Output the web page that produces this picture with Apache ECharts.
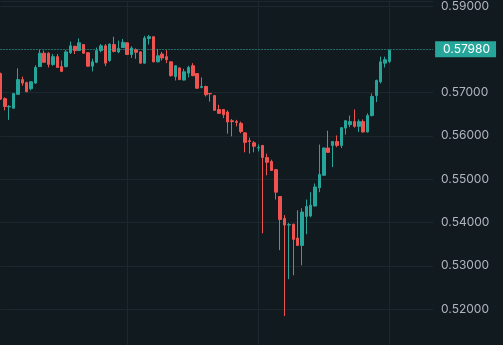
<!DOCTYPE html>
<html>
<head>
<meta charset="utf-8">
<script src="https://cdn.jsdelivr.net/npm/echarts@6/dist/echarts.min.js"></script>
<style>
html,body{margin:0;padding:0;background:#111a1f;}
#chart{width:503px;height:345px;}
</style>
</head>
<body>
<div id="chart"></div>
<script>
// ---- data ----
const opens  = [0.5744,0.5686,0.5667,0.5664,0.5696,0.5730,0.5723,0.5709,0.5722,0.5760,
                0.5791,0.5791,0.5765,0.5783,0.5760,0.5760,0.5792,0.5807,0.5797,0.5811,
                0.5792,0.5761,0.5770,0.5797,0.5808,0.5774,0.5811,0.5794,0.5804,0.5815,
                0.5788,0.5799,0.5794,0.5768,0.5825,0.5829,0.5771,0.5789,0.5783,0.5771,
                0.5737,0.5757,0.5729,0.5745,0.5762,0.5744,0.5712,0.5714,0.5698,0.5693,
                0.5661,0.5661,0.5655,0.5635,0.5633,0.5629,0.5607,0.5589,0.5584,0.5572,
                0.5578,0.5550,0.5541,0.5522,0.5460,0.5409,0.5394,0.5396,0.5364,0.5347,
                0.5414,0.5415,0.5438,0.5480,0.5509,0.5572,0.5578,0.5587,0.5578,0.5618,
                0.5626,0.5633,0.5622,0.5633,0.5609,0.5647,0.5693,0.5725,0.5768,0.5772];
const closes = [0.5685,0.5668,0.5668,0.5698,0.5730,0.5722,0.5702,0.5725,0.5758,0.5791,
                0.5770,0.5765,0.5783,0.5758,0.5749,0.5794,0.5808,0.5797,0.5815,0.5791,
                0.5761,0.5771,0.5797,0.5808,0.5768,0.5812,0.5795,0.5802,0.5816,0.5788,
                0.5803,0.5793,0.5768,0.5826,0.5829,0.5771,0.5785,0.5780,0.5776,0.5739,
                0.5762,0.5730,0.5748,0.5758,0.5739,0.5710,0.5714,0.5695,0.5697,0.5659,
                0.5652,0.5649,0.5632,0.5633,0.5631,0.5610,0.5585,0.5587,0.5576,0.5573,
                0.5550,0.5539,0.5520,0.5470,0.5407,0.5394,0.5395,0.5361,0.5347,0.5424,
                0.5437,0.5440,0.5482,0.5511,0.5572,0.5562,0.5587,0.5578,0.5619,0.5635,
                0.5633,0.5622,0.5633,0.5609,0.5647,0.5691,0.5728,0.5771,0.5776,0.5798];
const lows   = [0.5683,0.5659,0.5637,0.5663,0.5695,0.5716,0.5701,0.5705,0.5720,0.5759,
                0.5769,0.5758,0.5762,0.5757,0.5748,0.5758,0.5789,0.5789,0.5796,0.5790,
                0.5760,0.5749,0.5768,0.5793,0.5761,0.5771,0.5793,0.5791,0.5803,0.5787,
                0.5780,0.5778,0.5767,0.5767,0.5811,0.5770,0.5770,0.5774,0.5768,0.5737,
                0.5728,0.5729,0.5728,0.5735,0.5738,0.5709,0.5710,0.5691,0.5679,0.5658,
                0.5651,0.5641,0.5605,0.5599,0.5622,0.5606,0.5562,0.5559,0.5562,0.5564,
                0.5375,0.5509,0.5519,0.5453,0.5336,0.5184,0.5269,0.5278,0.5346,0.5301,
                0.5373,0.5412,0.5437,0.5470,0.5508,0.5561,0.5528,0.5574,0.5572,0.5603,
                0.5620,0.5619,0.5609,0.5608,0.5608,0.5645,0.5678,0.5721,0.5758,0.5768];
const highs  = [0.5746,0.5689,0.5671,0.5699,0.5756,0.5737,0.5725,0.5726,0.5763,0.5799,
                0.5797,0.5793,0.5789,0.5789,0.5774,0.5798,0.5818,0.5808,0.5825,0.5812,
                0.5793,0.5778,0.5804,0.5812,0.5812,0.5813,0.5829,0.5820,0.5824,0.5816,
                0.5807,0.5802,0.5795,0.5831,0.5833,0.5830,0.5801,0.5794,0.5798,0.5772,
                0.5763,0.5758,0.5755,0.5762,0.5768,0.5745,0.5735,0.5716,0.5699,0.5694,
                0.5672,0.5662,0.5659,0.5639,0.5637,0.5633,0.5608,0.5596,0.5588,0.5580,
                0.5579,0.5559,0.5545,0.5523,0.5461,0.5417,0.5399,0.5397,0.5428,0.5433,
                0.5453,0.5470,0.5490,0.5580,0.5573,0.5612,0.5588,0.5601,0.5620,0.5636,
                0.5647,0.5661,0.5638,0.5638,0.5652,0.5698,0.5730,0.5783,0.5783,0.5799];
const lastPrice = 0.5798;
const yMin = 0.5117, yMax = 0.5912;   // visible price window
const slotCount = 100; // visible bar slots, incl. empty space at right
const categories = [];
for (let i = 0; i < slotCount; i++) categories.push(String(i + 1));

// ---- build ----
const ohlc = categories.map((c, i) =>
  i < opens.length ? [opens[i], closes[i], lows[i], highs[i]] : '-');

const UP = '#26a69a', DOWN = '#ef5350', GRID = '#1d282e';
const chart = echarts.init(document.getElementById('chart'), null, {renderer: 'canvas'});
chart.setOption({
  backgroundColor: '#111a1f',
  animation: false,
  grid: {left: 0.5, right: 69.9, top: 0, bottom: 0, containLabel: false},
  xAxis: {
    type: 'category',
    data: categories,
    boundaryGap: false,
    axisLine: {show: false},
    axisTick: {show: false},
    axisLabel: {show: false},
    splitLine: {
      show: true,
      interval: function (index) { return index % 30 === 29; },
      lineStyle: {color: GRID, width: 1}
    }
  },
  yAxis: {
    type: 'value',
    position: 'right',
    min: yMin,
    max: yMax,
    splitNumber: 8,
    minInterval: 0.01,
    maxInterval: 0.01,
    axisLine: {show: false},
    axisTick: {show: false},
    axisLabel: {
      color: '#b2b5be',
      fontFamily: 'Inter',
      fontSize: 12,
      margin: 8,
      showMinLabel: false,
      showMaxLabel: false,
      formatter: function (v) { return v.toFixed(5); }
    },
    splitLine: {show: true, lineStyle: {color: GRID, width: 1}}
  },
  series: [{
    type: 'candlestick',
    data: ohlc,
    barWidth: 3,
    itemStyle: {
      color: UP, color0: DOWN,
      borderColor: UP, borderColor0: DOWN,
      borderWidth: 1
    },
    markLine: {
      silent: true,
      symbol: ['none', 'none'],
      data: [{yAxis: lastPrice}],
      lineStyle: {color: UP, type: [1, 2], width: 1},
      label: {
        show: true,
        position: 'end',
        distance: 2,
        formatter: function () { return lastPrice.toFixed(5); },
        color: '#ffffff',
        fontFamily: 'Inter',
        fontSize: 12,
        backgroundColor: UP,
        padding: [2, 6, 2, 8],
        borderRadius: 0
      }
    }
  }]
});
</script>
</body>
</html>
